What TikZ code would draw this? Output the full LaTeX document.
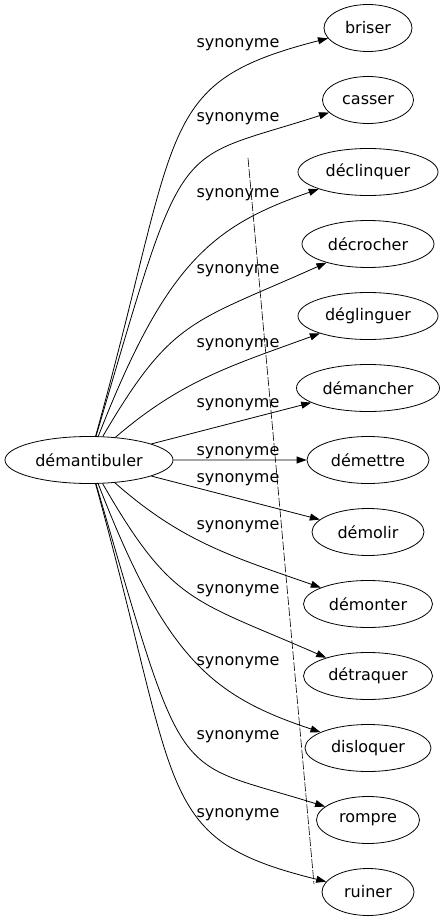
\documentclass[tikz,border=0pt]{standalone}
\usepackage{fontspec}
\setmainfont{DejaVu Sans}
\usetikzlibrary{shapes.geometric,positioning,arrows.meta}
\tikzset{mynode/.style={
  shape=ellipse,
  draw=black,
  line width=0.8pt,
  minimum height=47pt,
  inner sep=0pt,
  font=\fontsize{16}{19}\selectfont,
  }
  }
\tikzset{myedge/.style={
  draw=black,
  line width=0.8pt,
  -{Triangle[length=10pt,width=7pt]},
  }
  }
\tikzset{mylabel/.style={
  inner sep=0pt,
  font=\fontsize{16}{19}\selectfont,
  }
  }
\tikzset{mydash/.style={
  draw=black,
  line width=0.6pt,
  dash pattern=on 9pt off 2pt,
  }
  }

\begin{document}
\begin{tikzpicture}[x=1pt,y=1pt,node distance=24.2pt]
  \useasboundingbox (0,0) rectangle (447,-923);
  \node [mynode, minimum width=168pt] (w) at (89,-460) {démantibuler};
  \node [mynode, minimum width=88pt] (s1) at (368,-28) {briser};
  \node [mynode, minimum width=91pt, below=of s1] (s2) {casser};
  \node [mynode, minimum width=140pt, below=of s2] (s3) {déclinquer};
  \node [mynode, minimum width=132pt, below=of s3] (s4) {décrocher};
  \node [mynode, minimum width=140pt, below=of s4] (s5) {déglinguer};
  \node [mynode, minimum width=143pt, below=of s5] (s6) {démancher};
  \node [mynode, minimum width=122pt, below=of s6] (s7) {démettre};
  \node [mynode, minimum width=112pt, below=of s7] (s8) {démolir};
  \node [mynode, minimum width=129pt, below=of s8] (s9) {démonter};
  \node [mynode, minimum width=129pt, below=of s9] (s10) {détraquer};
  \node [mynode, minimum width=126pt, below=of s10] (s11) {disloquer};
  \node [mynode, minimum width=103pt, below=of s11] (s12) {rompre};
  \node [mynode, minimum width=92pt, below=of s12] (s13) {ruiner};

  \node [mylabel] (l1) at (238,-45) {synonyme};
  \node [mylabel] (l2) at (238,-119) {synonyme};
  \node [mylabel] (l3) at (238,-195) {synonyme};
  \node [mylabel] (l4) at (238,-271) {synonyme};
  \node [mylabel] (l5) at (238,-345) {synonyme};
  \node [mylabel] (l6) at (238,-405) {synonyme};
  \node [mylabel] (l7) at (238,-453) {synonyme};
  \node [mylabel] (l8) at (238,-480) {synonyme};
  \node [mylabel] (l9) at (238,-527) {synonyme};
  \node [mylabel] (l10) at (238,-591) {synonyme};
  \node [mylabel] (l11) at (238,-663) {synonyme};
  \node [mylabel] (l12) at (238,-737) {synonyme};
  \node [mylabel] (l13) at (238,-815) {synonyme};

  \draw [myedge] (w) .. controls (182,-125) and (154,-83) .. (s1);
  \draw [myedge] (w) .. controls (187,-128) and (170,-164) .. (s2);
  \draw [myedge] (w) .. controls (166,-263) and (212,-226) .. (s3);
  \draw [myedge] (w) .. controls (172,-318) and (192,-323) .. (s4);
  \draw [myedge] (w) .. controls (181,-381) and (230,-366) .. (s5);
  \draw [myedge] (w) -- (s6);
  \draw [myedge] (w) -- (s7);
  \draw [myedge] (w) -- (s8);
  \draw [myedge] (w) .. controls (181,-541) and (230,-556) .. (s9);
  \draw [myedge] (w) .. controls (172,-604) and (192,-599) .. (s10);
  \draw [myedge] (w) .. controls (166,-659) and (212,-696) .. (s11);
  \draw [myedge] (w) .. controls (187,-794) and (170,-758) .. (s12);
  \draw [myedge] (w) .. controls (182,-797) and (154,-839) .. (s13);

  % stray dashed stroke
  \coordinate (t1) at (248,-158);
  \coordinate (t2) at (314,-884);
  \draw [mydash] (t1) -- (t2);
\end{tikzpicture}
\end{document}
